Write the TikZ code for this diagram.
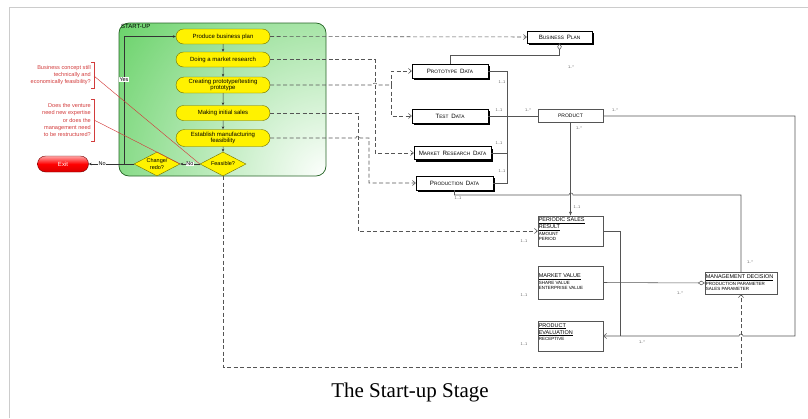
\documentclass[tikz,border=0pt]{standalone}
\usepackage{fontspec}
\setmainfont{Liberation Sans}
\newfontfamily\titlefont{Liberation Serif}
\usetikzlibrary{shapes.geometric,shapes.misc,arrows.meta,shadows,calc}
\newcommand\myfs[1]{\fontsize{#1}{#1}\selectfont}
\newcommand\mySC[2]{{\fontsize{6.2}{6.2}\selectfont #1}{\fontsize{4.8}{4.8}\selectfont #2}}
\definecolor{gcol}{RGB}{55,195,55}
\definecolor{gborder}{RGB}{40,100,40}
\definecolor{ybord}{RGB}{110,110,0}
\definecolor{notered}{RGB}{210,60,60}
\definecolor{connc}{RGB}{85,85,85}
\tikzset{
  proc/.style={rounded rectangle, draw=ybord, fill=yellow, minimum width=96pt, minimum height=15pt,
    inner sep=1pt, font=\fontsize{6}{6.6}\selectfont, align=center},
  dec/.style={diamond, draw=ybord, fill=yellow, minimum width=46pt, minimum height=24pt,
    inner sep=0pt, shape aspect=1.9, font=\fontsize{5.5}{6.2}\selectfont, align=center},
  exitn/.style={rounded rectangle, draw=red!45!black, top color=red!35!white, bottom color=red!85!black,
    middle color=red, minimum width=53pt, minimum height=16pt, inner sep=1pt,
    font=\myfs{6}, text=white},
  flow/.style={draw=black!80, line width=0.5pt, -{Stealth[length=3pt,width=2.6pt]}},
  lbl/.style={fill=white, inner sep=0.5pt, font=\myfs{5.5}},
  note/.style={align=right, text=notered, inner sep=0pt, font=\fontsize{5.6}{7.2}\selectfont},
  redl/.style={draw=notered, line width=0.45pt},
  er/.style={draw=black, fill=white, minimum width=76pt, minimum height=14pt, inner sep=1pt,
    drop shadow={fill=black, opacity=1, shadow xshift=2pt, shadow yshift=-2pt}},
  ent/.style={draw=connc, fill=white, minimum width=65pt, minimum height=13pt, inner sep=1pt, font=\myfs{5}},
  fbox/.style={draw=connc, fill=white, minimum width=65pt, inner sep=0pt},
  hdr/.style={anchor=north west, align=left, inner sep=0.8pt, font=\fontsize{5.5}{7}\selectfont},
  fld/.style={anchor=north west, align=left, inner xsep=0.8pt, inner ysep=0.3pt, font=\fontsize{4.5}{5.5}\selectfont},
  conn/.style={draw=connc, line width=0.55pt},
  dsh/.style={draw=connc, line width=0.55pt, dash pattern=on 4pt off 2.5pt},
  openarr/.style={-{Straight Barb[length=3pt,width=5pt]}},
  mult/.style={font=\myfs{4}, text=black!60, inner sep=0pt}
}
\begin{document}
\begin{tikzpicture}[x=1pt,y=-1pt]
\useasboundingbox (0,0) rectangle (808,418);
\draw[black!20, line width=0.8pt] (9,418) -- (9,7) -- (808,7);

% start-up container
\begin{scope}
  \path[clip, rounded corners=10pt] (119,23) rectangle (326,176);
  \fill[gcol] (119,23) rectangle (326,176);
  \shade[inner color=white, outer color=gcol] (328,178) circle[radius=350pt];
\end{scope}
\draw[gborder, line width=0.7pt, rounded corners=10pt] (119,23) rectangle (326,176);
\node[anchor=north west, inner sep=1pt, font=\myfs{6}] (sulbl) at (120,23.5) {START-UP};

% process nodes
\node[proc] (p1) at (223,36.5) {Produce business plan};
\node[proc] (p2) at (223,59.5) {Doing a market research};
\node[proc, minimum height=16pt] (p3) at (223,85) {Creating prototype/testing\\prototype};
\node[proc] (p4) at (223,113) {Making initial sales};
\node[proc, minimum height=17pt] (p5) at (223,138) {Establish manufacturing\\feasibility};
\node[dec] (fea) at (223,164) {Feasible?};
\node[dec] (chg) at (157,164) {Change/\\redo?};
\node[exitn] (exit) at (63,164) {Exit};

\draw[flow] (p1) -- (p2);
\draw[flow] (p2) -- (p3);
\draw[flow] (p3) -- (p4);
\draw[flow] (p4) -- (p5);
\draw[flow] (p5) -- (fea);
\draw[flow] (fea.west) -- node[lbl]{No} (chg.east);
\draw[flow] (chg.west) -- node[lbl, pos=0.7]{No} (exit.east);
\draw[flow] (chg.west) -- (124,164) |- node[lbl, pos=0.33]{Yes} (p1.west);

% notes
\node[note, anchor=east] (n1) at (91,75) {Business concept still\\technically and\\economically feasibility?};
\node[note, anchor=east] (n2) at (91,120) {Does the venture\\need new expertise\\or does the\\management need\\to be restructured?};
\draw[redl] (91,62) -- (94,62) -- (94,88) -- (91,88);
\draw[redl] (91,99) -- (94,99) -- (94,141) -- (91,141);
\coordinate (b1) at (94,76);
\coordinate (b2) at (94,120);
\draw[redl] (b1) -- (fea.west);
\draw[redl] (b2) -- (chg.east);

% data entities
\node[er, minimum width=65pt, minimum height=12pt] (bp) at (559.5,37) {\mySC{B}{USINESS} \mySC{P}{LAN}};
\node[er] (pd) at (450,71) {\mySC{P}{ROTOTYPE} \mySC{D}{ATA}};
\node[er] (td) at (450,116) {\mySC{T}{EST} \mySC{D}{ATA}};
\node[er, minimum width=77pt, minimum height=13pt] (mrd) at (452.5,153) {\mySC{M}{ARKET} \mySC{R}{ESEARCH} \mySC{D}{ATA}};
\node[er, minimum width=77pt] (prd) at (454.5,183) {\mySC{P}{RODUCTION} \mySC{D}{ATA}};
\node[ent] (prod) at (570.5,116) {PRODUCT};

\node[fbox, minimum height=30pt] (psr) at (570.5,231) {};
\node[hdr] (psrh) at ([yshift=-1pt]psr.north west) {\underline{PERIODIC SALES}\\\underline{RESULT}};
\node[fld] (psrf) at (psrh.south west) {AMOUNT\\PERIOD};

\node[fbox, minimum height=33pt] (mv) at (570.5,282.5) {};
\node[hdr] (mvh) at ([yshift=-7pt]mv.north west) {\underline{MARKET VALUE}};
\node[fld] (mvf) at (mvh.south west) {SHARE VALUE\\ENTERPRISE VALUE};

\node[fbox, minimum height=30pt] (pe) at (570.5,336) {};
\node[hdr] (peh) at ([yshift=-1.5pt]pe.north west) {\underline{PRODUCT}\\\underline{EVALUATION}};
\node[fld] (pef) at (peh.south west) {RECEPTIVE};

\node[fbox, minimum width=72pt, minimum height=22pt] (md) at (741,283) {};
\node[hdr] (mdh) at ([yshift=-2pt]md.north west) {\underline{MANAGEMENT DECISION}};
\node[fld] (mdf) at (mdh.south west) {PRODUCTION PARAMETER\\SALES PARAMETER};

% solid connectors
\draw[conn] (pd.east) -- (507,71) -- (507,183) -- (prd.east);
\draw[conn] (mrd.east) -- (507,153);
\draw[conn] (td.east) -- (prod.west);
\draw[conn, -{Diamond[open,length=7pt,width=4.5pt]}] (pd.north) -- ++(0,-9) -| (bp.south);
\draw[conn] (prd.south) -- (454.5,195) -- (569,195) arc[start angle=180,end angle=0,radius=2pt] -- (741,195) -- (md.north);
\draw[conn, -{Latex[length=4pt,width=3pt]}] (prod.south) -- (psr.north);
\draw[conn, -{Straight Barb[length=3pt,width=5pt]}] (prod.east) -- (795,116) -- (795,336) -- (743,336) arc[start angle=0,end angle=180,radius=2pt] -- (pe.east);
\draw[conn] (psr.east) -- (620,231) -- (620,336);
\draw[conn, -{Diamond[open,length=7pt,width=4.5pt]}] (mv.east) -- (md.west);

% dashed connectors
\draw[dsh, openarr] (p1.east) -- (bp.west);
\draw[dsh, openarr] (p2.east) -- (375,59.5) |- (mrd.west);
\draw[dsh] (p3.east) -- (373,85) arc[start angle=180,end angle=0,radius=2pt] -- (391,85);
\coordinate (j3) at (391,85);
\draw[dsh, openarr] (j3) |- (pd.west);
\draw[dsh, openarr] (j3) |- (td.west);
\draw[dsh, openarr] (p4.east) -- (358,113) |- (psr.west);
\draw[dsh, openarr] (p5.east) -- (356,138) arc[start angle=180,end angle=0,radius=2pt] -- (369,138) |- (prd.west);
\draw[dsh, openarr] (fea.south) -- (223,367) -| (md.south);

% multiplicities
\node[mult] at (502,82) {1..1};
\node[mult] at (499,110) {1..1};
\node[mult] at (499,143) {1..1};
\node[mult] at (502,171) {1..1};
\node[mult] at (528,110) {1..*};
\node[mult] at (571,67) {1..*};
\node[mult] at (579,128) {1..*};
\node[mult] at (615,110) {1..*};
\node[mult] at (458,198) {1..1};
\node[mult] at (577,207) {1..1};
\node[mult] at (750,262) {1..*};
\node[mult] at (680,293) {1..*};
\node[mult] at (642,342) {1..*};
\node[mult] at (524,241) {1..1};
\node[mult] at (524,295) {1..1};
\node[mult] at (524,344) {1..1};

% title
\node[font=\titlefont\fontsize{21}{24}\selectfont] (title) at (410,392) {The Start-up Stage};
\end{tikzpicture}
\end{document}
